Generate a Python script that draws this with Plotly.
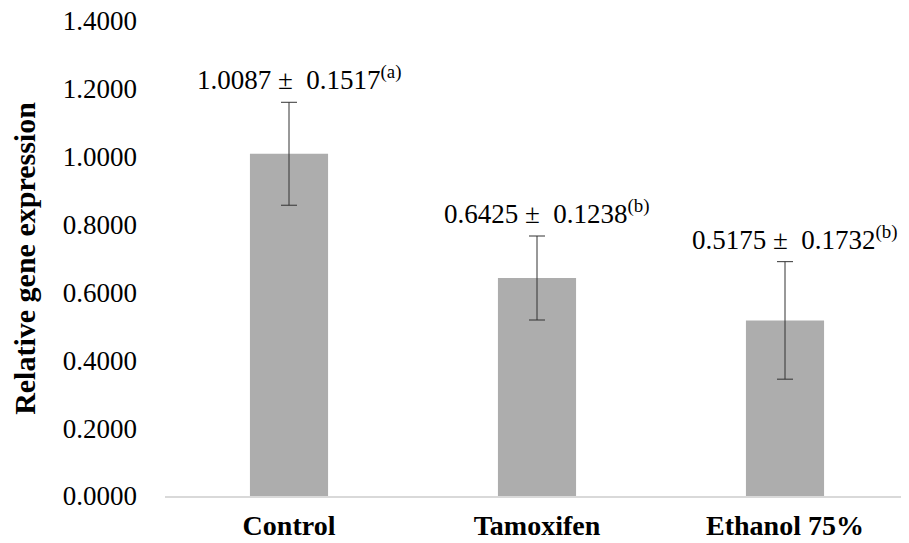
import plotly.graph_objects as go

categories = ["Control", "Tamoxifen", "Ethanol 75%"]
means = [1.0087, 0.6425, 0.5175]
sds = [0.1517, 0.1238, 0.1732]
letters = ["a", "b", "b"]
yticks = [0, 0.2, 0.4, 0.6, 0.8, 1.0, 1.2, 1.4]

FONT = "Liberation Serif"

fig = go.Figure()
fig.add_trace(go.Bar(
    x=categories, y=means, width=0.315,
    marker=dict(color="#ADADAD", line=dict(width=0)),
    error_y=dict(type="data", array=sds, visible=True, color="#333333",
                 thickness=1, width=8),
))

for c, m, s, l in zip(categories, means, sds, letters):
    fig.add_annotation(
        x=c, y=m + s, yref="y", xref="x",
        text=f"{m:.4f} ±  {s:.4f}<sup>({l})</sup>",
        showarrow=False, yanchor="middle", yshift=24, xshift=10,
        font=dict(family=FONT, size=27, color="#000000"),
    )

# page body has an 8px default margin, so the figure is sized/offset to fit the window
fig.update_layout(
    width=901, height=535,
    margin=dict(l=157, r=0, t=13, b=47),
    paper_bgcolor="white", plot_bgcolor="white",
    showlegend=False,
    font=dict(family=FONT, color="#000000"),
)
fig.update_xaxes(
    type="category", range=[-0.5, 2.5], automargin=False,
    showline=True, linecolor="#D9D9D9", linewidth=1.5,
    showgrid=False, ticks="",
    tickfont=dict(family=FONT, size=28, color="#000000", weight="bold"),
    ticklabelstandoff=4,
)
fig.update_yaxes(
    range=[0, 1.4], tickvals=yticks, automargin=False,
    ticktext=[f"{v:.4f}" for v in yticks],
    showline=False, showgrid=False, zeroline=False, ticks="",
    tickfont=dict(family=FONT, size=27, color="#000000"),
    ticklabelstandoff=27, ticklabeloverflow="allow",
    title=dict(text="<b>Relative gene expression</b>",
               font=dict(family=FONT, size=30, color="#000000"), standoff=27),
)

fig.write_html("out.html")
